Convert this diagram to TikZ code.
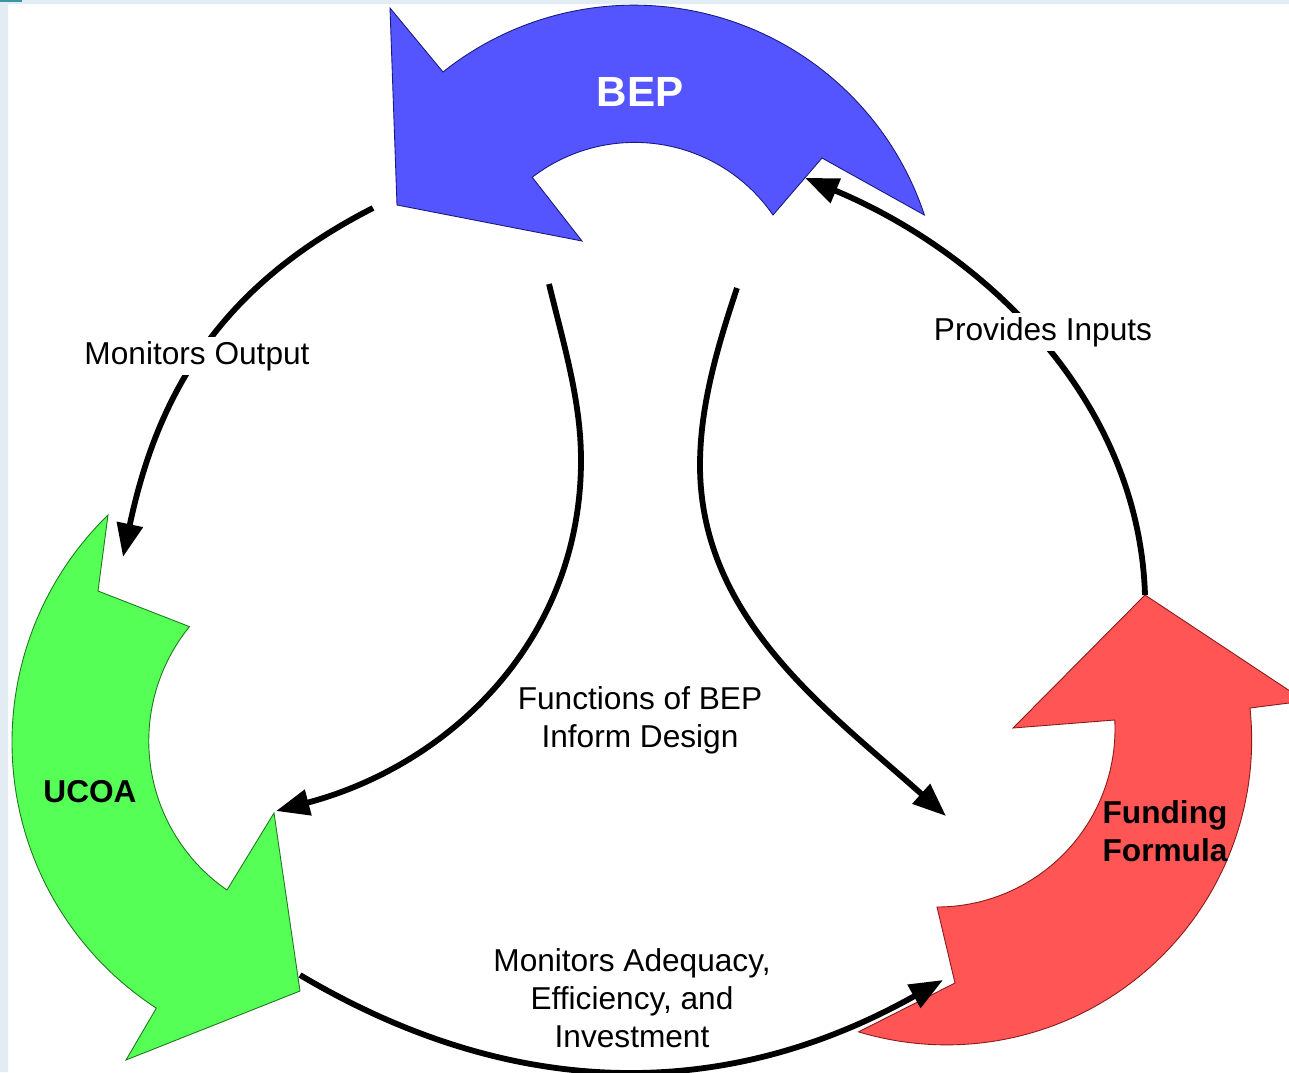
\documentclass[tikz,border=0pt]{standalone}
\usepackage{fontspec}
\setmainfont{Liberation Sans}
\usepackage{tikz}
\usetikzlibrary{arrows.meta}

\definecolor{bepblue}{RGB}{85,85,255}
\definecolor{bepline}{RGB}{25,25,130}
\definecolor{ucoagreen}{RGB}{85,255,85}
\definecolor{ucoaline}{RGB}{30,120,30}
\definecolor{ffred}{RGB}{255,85,85}
\definecolor{ffline}{RGB}{140,25,25}
\definecolor{slideedge}{RGB}{226,236,242}
\definecolor{slideteal}{RGB}{60,150,160}

\begin{document}
\begin{tikzpicture}[x=0.2mm,y=-0.2mm,
	bep/.style={fill=bepblue,draw=bepline,line width=0.5pt},
	ucoa/.style={fill=ucoagreen,draw=ucoaline,line width=0.5pt},
	fund/.style={fill=ffred,draw=ffline,line width=0.5pt},
	flow/.style={line width=3.3pt,-{Triangle[length=19pt,width=14.5pt]}},
	lbl/.style={font=\fontsize{18}{21.8}\selectfont,inner sep=2.5pt},
	big/.style={font=\fontsize{18}{21.8}\selectfont\bfseries}]
\useasboundingbox (0,0) rectangle (1289,1072);
\fill[white] (0,0) rectangle (1289,1072);
%slide edge
\fill[slideedge] (0,0) rectangle (8,1072)
	(0,0) rectangle (1289,4);
\fill[slideteal] (0,0) rectangle (22,2);
%BEP
\begin{scope}
\filldraw[bep] (390,8) -- (443,72) arc[start angle=-128.6,end angle=-18.3,radius=306]
	-- (822,158) -- (773,215) arc[start angle=-34.6,end angle=-127.6,radius=168]
	-- (582,241) -- (397,205) -- cycle;
	\node[white,font=\fontsize{24}{28}\selectfont\bfseries] (bep) at (640,92) {BEP};
\end{scope}
%UCOA
\begin{scope}
\filldraw[ucoa] (108,515) arc[start angle=225.8,end angle=123,radius=317]
	-- (126,1060) -- (300,991) -- (274,813) -- (227,890)
	arc[start angle=124.6,end angle=219.2,radius=181]
	-- (98,591) -- cycle;
	\node[big] (ucoa) at (90,792) {UCOA};
\end{scope}
%funding formula
\begin{scope}
\filldraw[fund] (1145,595) -- (1305,701) -- (1250,708)
	arc[start angle=-6,end angle=106.8,radius=305]
	-- (955,983) -- (937,907) arc[start angle=90,end angle=-2.9,radius=178]
	-- (1013,728) -- cycle;
	\node[big,align=center] (ff) at (1165,831) {Funding\\Formula};
\end{scope}
%connector ends
\coordinate (bepOut) at (373,208);
\coordinate (ucoaIn) at (123,557);
\coordinate (ffTip) at (1145,595);
\coordinate (bepNotch) at (805,178);
\coordinate (bepL) at (549,284);
\coordinate (bepR) at (737,288);
\coordinate (ucoaTip) at (276,811);
\coordinate (ffIn) at (946,816);
\coordinate (ucoaOut) at (300,975);
\coordinate (ffTail) at (943,980);
%connectors
\draw[flow] (bepOut) .. controls (222,285) and (158,391) .. (ucoaIn);
\draw[flow] (ffTip) .. controls (1139,400) and (985,253) .. (bepNotch);
\draw[flow] (bepL) .. controls (563,342) and (581,400) .. (581,460)
	.. controls (581,640) and (450,765) .. (ucoaTip);
\draw[flow] (bepR) .. controls (718,345) and (700,405) .. (700,465)
	.. controls (700,620) and (830,712) .. (ffIn);
\draw[flow] (ucoaOut) .. controls (514,1102) and (726,1102) .. (ffTail);
%labels
\node[lbl,fill=white] (monout) at (197,356) {Monitors Output};
\node[lbl,fill=white] (provin) at (1043,332) {Provides Inputs};
\node[lbl,align=center] (funcs) at (640,720) {Functions of BEP\\Inform Design};
\node[lbl,align=center] (monadq) at (632,998) {Monitors Adequacy,\\Efficiency, and\\Investment};
\end{tikzpicture}
\end{document}
